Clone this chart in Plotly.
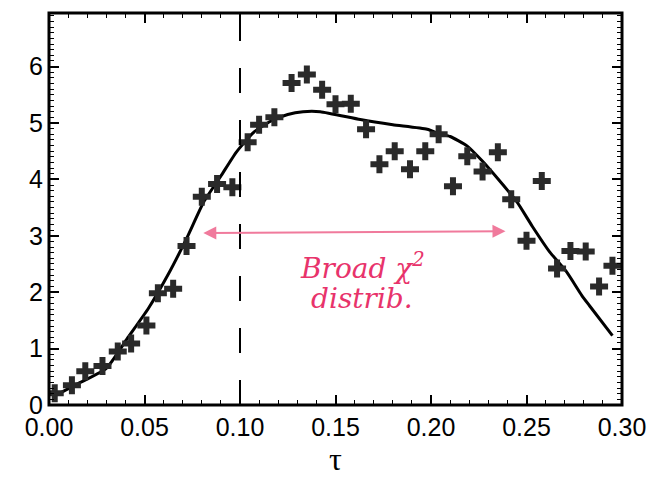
import plotly.graph_objects as go

# measured data points (+ markers)
tau_pts = [0.003, 0.012, 0.019, 0.028, 0.036, 0.043, 0.051, 0.057, 0.065, 0.072,
           0.080, 0.088, 0.096, 0.104, 0.110, 0.118, 0.127, 0.135, 0.143, 0.150,
           0.158, 0.166, 0.173, 0.181, 0.189, 0.197, 0.204, 0.2115, 0.219, 0.227,
           0.235, 0.242, 0.250, 0.258, 0.266, 0.273, 0.281, 0.288, 0.295]
val_pts = [0.21, 0.35, 0.60, 0.69, 0.95, 1.09, 1.41, 1.98, 2.06, 2.82,
           3.69, 3.92, 3.86, 4.66, 4.97, 5.10, 5.71, 5.86, 5.59, 5.33,
           5.34, 4.89, 4.27, 4.50, 4.18, 4.50, 4.80, 3.88, 4.41, 4.14,
           4.48, 3.65, 2.91, 3.97, 2.42, 2.73, 2.72, 2.10, 2.47]

# fitted curve
tau_fit = [0.004, 0.0126, 0.030, 0.041, 0.052, 0.062, 0.072, 0.081, 0.090, 0.098,
           0.107, 0.116, 0.125, 0.133, 0.142, 0.163, 0.180, 0.198, 0.205, 0.210,
           0.219, 0.227, 0.236, 0.245, 0.253, 0.262, 0.271, 0.279, 0.283, 0.295]
val_fit = [0.18, 0.335, 0.65, 1.18, 1.71, 2.29, 2.95, 3.60, 4.06, 4.48,
           4.83, 5.03, 5.15, 5.20, 5.20, 5.06, 4.97, 4.89, 4.80, 4.76,
           4.59, 4.32, 3.97, 3.60, 3.17, 2.72, 2.36, 1.94, 1.76, 1.23]

x_range = [0, 0.30]
y_range = [0.0, 6.95]
cut_tau = 0.10
arrow_tau = [0.080, 0.239]
arrow_val = [3.05, 3.08]

red = "#e8336b"

fig = go.Figure()
fig.add_trace(go.Scatter(x=tau_fit, y=val_fit, mode="lines",
                         line=dict(color="black", width=3, shape="spline", smoothing=0.5),
                         showlegend=False, hoverinfo="skip"))
fig.add_trace(go.Scatter(x=tau_pts, y=val_pts, mode="markers",
                         marker=dict(symbol="cross", size=15, color="#2a2a2a",
                                     line=dict(width=0)),
                         showlegend=False))

# dashed cut line
fig.add_shape(type="line", x0=cut_tau, x1=cut_tau, y0=0, y1=1, xref="x", yref="paper",
              line=dict(color="black", width=2, dash="25px,27px"))
# thick plot frame
fig.add_shape(type="rect", x0=0, x1=1, y0=0, y1=1, xref="paper", yref="paper",
              line=dict(color="black", width=3), fillcolor="rgba(0,0,0,0)")

fig.add_annotation(x=arrow_tau[1], y=arrow_val[1], ax=arrow_tau[0], ay=arrow_val[0],
                   xref="x", yref="y", axref="x", ayref="y", text="",
                   showarrow=True, arrowhead=2, startarrowhead=2, arrowside="end+start",
                   arrowsize=1.3, startarrowsize=1.3, arrowwidth=2, arrowcolor="#f07a9c")
fig.add_annotation(x=0.164, y=2.45, xref="x", yref="y", text="Broad χ<sup>2</sup>",
                   showarrow=False,
                   font=dict(family="DejaVu Serif", size=28, color=red, style="italic"))
fig.add_annotation(x=0.164, y=1.88, xref="x", yref="y", text="distrib.",
                   showarrow=False,
                   font=dict(family="DejaVu Serif", size=28, color=red, style="italic"))

axis_common = dict(showline=True, linecolor="black", linewidth=1, mirror="ticks",
                   ticks="inside", tickcolor="black", tickwidth=2, ticklen=10,
                   showgrid=False, zeroline=False,
                   tickfont=dict(family="Liberation Sans, Arial", size=25, color="black"))

fig.update_xaxes(range=x_range, tickmode="linear", tick0=0, dtick=0.05, tickformat=".2f",
                 minor=dict(dtick=0.01, ticks="inside", ticklen=5, tickwidth=1,
                            tickcolor="black", showgrid=False),
                 title=dict(text="τ", font=dict(family="Liberation Serif", size=32, color="black"),
                            standoff=6),
                 **axis_common)
fig.update_yaxes(range=y_range, tickmode="linear", tick0=0, dtick=1,
                 minor=dict(dtick=0.1, ticks="inside", ticklen=5, tickwidth=1,
                            tickcolor="black", showgrid=False),
                 **axis_common)

fig.update_layout(width=660, height=483, margin=dict(l=49, r=38, t=13, b=78),
                  plot_bgcolor="white", paper_bgcolor="white")

fig.write_html("out.html")
